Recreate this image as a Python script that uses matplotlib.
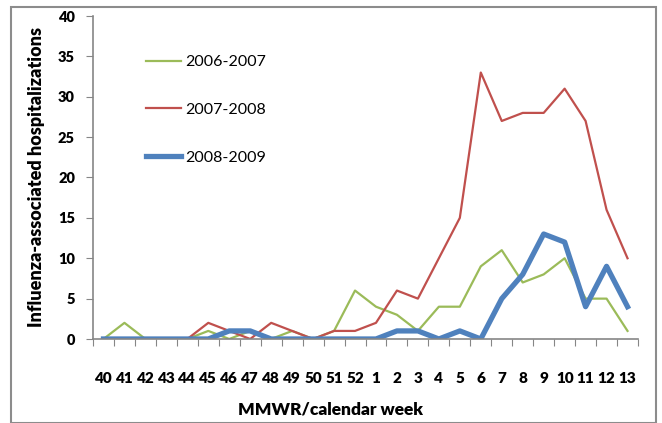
"""
Weekly influenza-associated hospitalizations, three seasons compared
"""

import numpy as np
import matplotlib
matplotlib.use("Agg")
import matplotlib.pyplot as plt

# MMWR weeks 40 through 13 of the following year
weeks = ['40', '41', '42', '43', '44', '45', '46', '47', '48', '49', '50', '51', '52',
         '1', '2', '3', '4', '5', '6', '7', '8', '9', '10', '11', '12', '13']

season_0607 = [0, 2, 0, 0, 0, 1, 0, 1, 0, 1, 0, 1, 6,
               4, 3, 1, 4, 4, 9, 11, 7, 8, 10, 5, 5, 1]
season_0708 = [0, 0, 0, 0, 0, 2, 1, 0, 2, 1, 0, 1, 1,
               2, 6, 5, 10, 15, 33, 27, 28, 28, 31, 27, 16, 10]
season_0809 = [0, 0, 0, 0, 0, 0, 1, 1, 0, 0, 0, 0, 0,
               0, 1, 1, 0, 1, 0, 5, 8, 13, 12, 4, 9, 4]

series_labels = ['2006-2007', '2007-2008', '2008-2009']
series_colors = ['#9BBB59', '#C0504D', '#4F81BD']
series_widths = [1.6, 1.6, 3.8]

plt.rcParams['font.family'] = ['Lato', 'DejaVu Sans']
heavy = 'heavy'

fig = plt.figure(figsize=(6.62, 4.23), dpi=100)
ax = fig.add_axes([93 / 662, 1 - 339 / 423, 545 / 662, 323 / 423])

# outer chart frame
frame = plt.Rectangle((11 / 662, 0), 645 / 662, 1 - 7 / 423, transform=fig.transFigure,
                      fill=False, edgecolor='#8c8c8c', linewidth=1.5)
fig.add_artist(frame)

x = np.arange(len(weeks))
for values, label, color, lw in zip([season_0607, season_0708, season_0809],
                                    series_labels, series_colors, series_widths):
    ax.plot(x, values, color=color, linewidth=lw, label=label, solid_joinstyle='round')

ax.set_xlim(-0.5, len(weeks) - 0.5)
ax.set_ylim(0, 40)
ax.set_yticks(np.arange(0, 41, 5))

# tick marks sit between categories, labels at the category centres
ax.set_xticks(np.arange(-0.5, len(weeks), 1.0))
ax.set_xticklabels([])
ax.set_xticks(x, minor=True)
ax.set_xticklabels(weeks, minor=True, fontsize=11, fontweight=heavy)
ax.tick_params(axis='x', which='minor', length=0, pad=24)
ax.tick_params(axis='x', which='major', length=5, color='#868686', direction='out')
ax.tick_params(axis='y', length=5, color='#868686', direction='out', pad=8,
               labelsize=10.5)
for lbl in ax.get_yticklabels():
    lbl.set_fontweight(heavy)

for side in ['top', 'right']:
    ax.spines[side].set_visible(False)
for side in ['left', 'bottom']:
    ax.spines[side].set_color('#868686')
    ax.spines[side].set_linewidth(1.2)

# axis titles are centred on the whole chart frame, not on the plot area
fig.text(330 / 662, 1 - 409 / 423, 'MMWR/calendar week', fontsize=12.5,
         fontweight=heavy, ha='center', va='center')
fig.text(37 / 662, 1 - 177 / 423, 'Influenza-associated hospitalizations',
         fontsize=13, fontweight=heavy, rotation=90, ha='center', va='center')

ax.legend(loc='upper left', bbox_to_anchor=(146 / 662, 1 - 55 / 423),
          bbox_transform=fig.transFigure, frameon=False, fontsize=11.5,
          handlelength=2.2, handletextpad=0.25, labelspacing=2.1,
          borderpad=0, borderaxespad=0)

fig.savefig('out.png', dpi=100)
